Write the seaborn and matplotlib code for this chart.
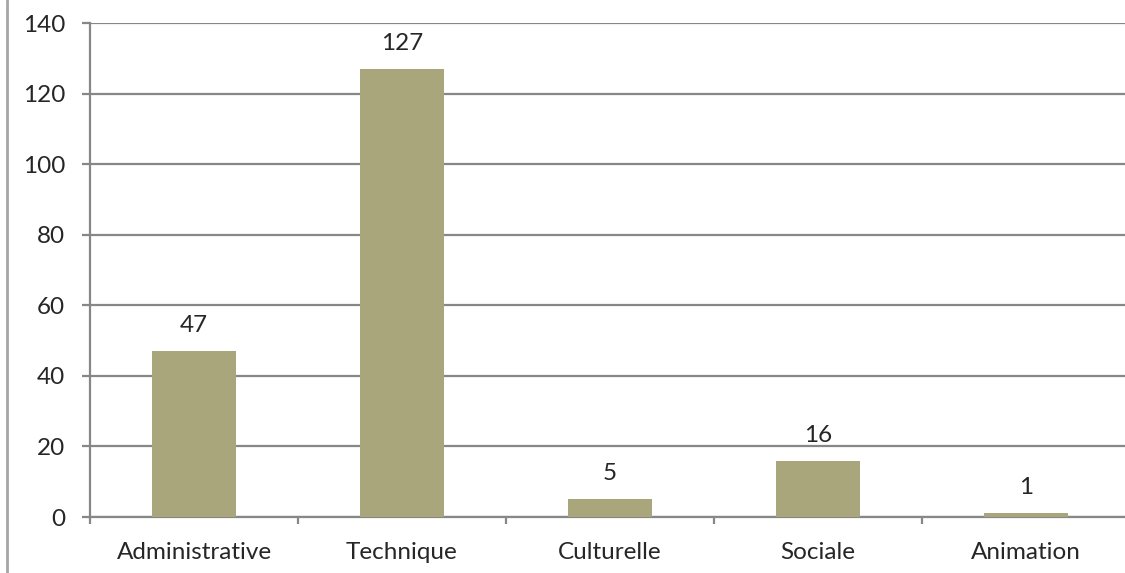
import matplotlib
matplotlib.use("Agg")
import matplotlib.pyplot as plt
import seaborn as sns
import pandas as pd
from matplotlib.lines import Line2D

categories = ["Administrative", "Technique", "Culturelle", "Sociale", "Animation"]
values = [47, 127, 5, 16, 1]
yticks = [0, 20, 40, 60, 80, 100, 120, 140]

sns.set_style("white")
plt.rcParams['font.family'] = ['Lato', 'DejaVu Sans']

df = pd.DataFrame({"cat": categories, "val": values})

fig = plt.figure(figsize=(11.25, 5.73), dpi=100)
ax = fig.add_axes([90/1125, 1-517/573, 1-90/1125, (517-23)/573])
sns.barplot(data=df, x="cat", y="val", color="#A9A67C", width=0.404, ax=ax,
            saturation=1, edgecolor="none", zorder=3)

ax.set_ylim(0, 140)
ax.set_xlim(-0.5, 4.5 - 5/208)
ax.set_yticks(yticks)
ax.set_yticklabels([str(t) for t in yticks])
ax.set_xlabel("")
ax.set_ylabel("")
ax.yaxis.grid(True, color="#878787", linewidth=1.6, zorder=0)
ax.set_axisbelow(True)

for s in ["top", "right"]:
    ax.spines[s].set_visible(False)
for s in ["left", "bottom"]:
    ax.spines[s].set_color("#878787")
    ax.spines[s].set_linewidth(1.6)

txt = "#262626"
fs = 17.5
ax.set_xticks(range(len(categories)))
ax.set_xticklabels(categories)
ax.tick_params(axis="x", which="major", bottom=True, length=0, pad=18, labelsize=fs, labelcolor=txt)
ax.tick_params(axis="y", left=True, length=6, width=1.6, color="#878787", pad=12, labelsize=fs, labelcolor=txt)

ax.set_xticks([i - 0.5 for i in range(len(categories))], minor=True)
ax.tick_params(axis="x", which="minor", bottom=True, length=5, width=1.6, color="#878787", direction="out")

for i, v in enumerate(values):
    ax.annotate(str(v), (i, v), xytext=(0, 15), textcoords="offset pixels",
                ha="center", va="bottom", fontsize=fs, color=txt)

fig.add_artist(Line2D([6.5/1125, 6.5/1125], [0, 1], color="#a6a6a6", linewidth=2, transform=fig.transFigure))

fig.savefig("out.png", dpi=100)
